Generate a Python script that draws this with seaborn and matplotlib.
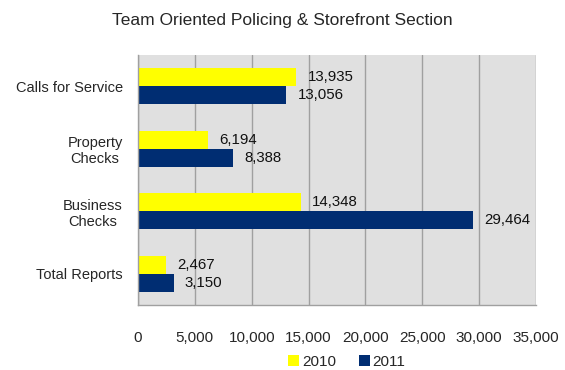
import numpy as np
import pandas as pd
import seaborn as sns
import matplotlib.pyplot as plt

categories = ['Calls for Service', 'Property\nChecks', 'Business\nChecks', 'Total Reports']
vals_2010 = [13935, 6194, 14348, 2467]
vals_2011 = [13056, 8388, 29464, 3150]
years = ['2010', '2011']
colors = ['#ffff00', '#002d72']

df = pd.DataFrame({
    'category': categories * 2,
    'year': [years[0]] * 4 + [years[1]] * 4,
    'value': vals_2010 + vals_2011,
})

sns.set_style('white')
plt.rcParams['font.family'] = ['Liberation Sans', 'DejaVu Sans']

fig = plt.figure(figsize=(5.65, 3.7), dpi=100)
ax = fig.add_axes([138 / 565, 1 - 305 / 370, 398 / 565, 250 / 370])
ax.set_facecolor('#e0e0e0')

sns.barplot(data=df, y='category', x='value', hue='year', palette=colors,
            orient='h', width=0.575, ax=ax, saturation=1, edgecolor='none')

# value labels
for cont in ax.containers:
    labels = [f'{int(v):,}' for v in cont.datavalues]
    ax.bar_label(cont, labels=labels, padding=8, fontsize=10.8, color='#111111')

ax.set_xlim(0, 35000)
ax.set_ylim(3.5, -0.5)
ax.set_xticks(np.arange(0, 35001, 5000))
ax.set_xticklabels([f'{t:,}' for t in range(0, 35001, 5000)], fontsize=11)
ax.xaxis.grid(True, color='#a0a0a0', linewidth=1)
ax.set_axisbelow(True)
ax.set_xlabel('')
ax.set_ylabel('')

# y axis: ticks on category boundaries, labels at centers
ax.set_yticks(np.arange(4))
ax.set_yticklabels(categories, fontsize=10.5, multialignment='center')
ax.tick_params(axis='y', length=0, pad=11)
ax.set_yticks(np.arange(-0.5, 4, 1), minor=True)
ax.tick_params(axis='y', which='minor', length=5, color='#a0a0a0', width=1, direction='out')
ax.tick_params(axis='x', length=5, color='#a0a0a0', width=1, direction='out', pad=14)

for side in ['top', 'right']:
    ax.spines[side].set_visible(False)
for side in ['left', 'bottom']:
    ax.spines[side].set_color('#a0a0a0')
    ax.spines[side].set_linewidth(1)

ax.legend(loc='center', bbox_to_anchor=(0.525, -0.228), ncol=2, frameon=False,
          fontsize=11, handlelength=0.7, handleheight=0.7, handletextpad=0.2,
          columnspacing=1.5)

fig.text(0.5, 1 - 20 / 370, 'Team Oriented Policing & Storefront Section',
         ha='center', va='center', fontsize=12.5)

fig.savefig('out.png', dpi=100)
